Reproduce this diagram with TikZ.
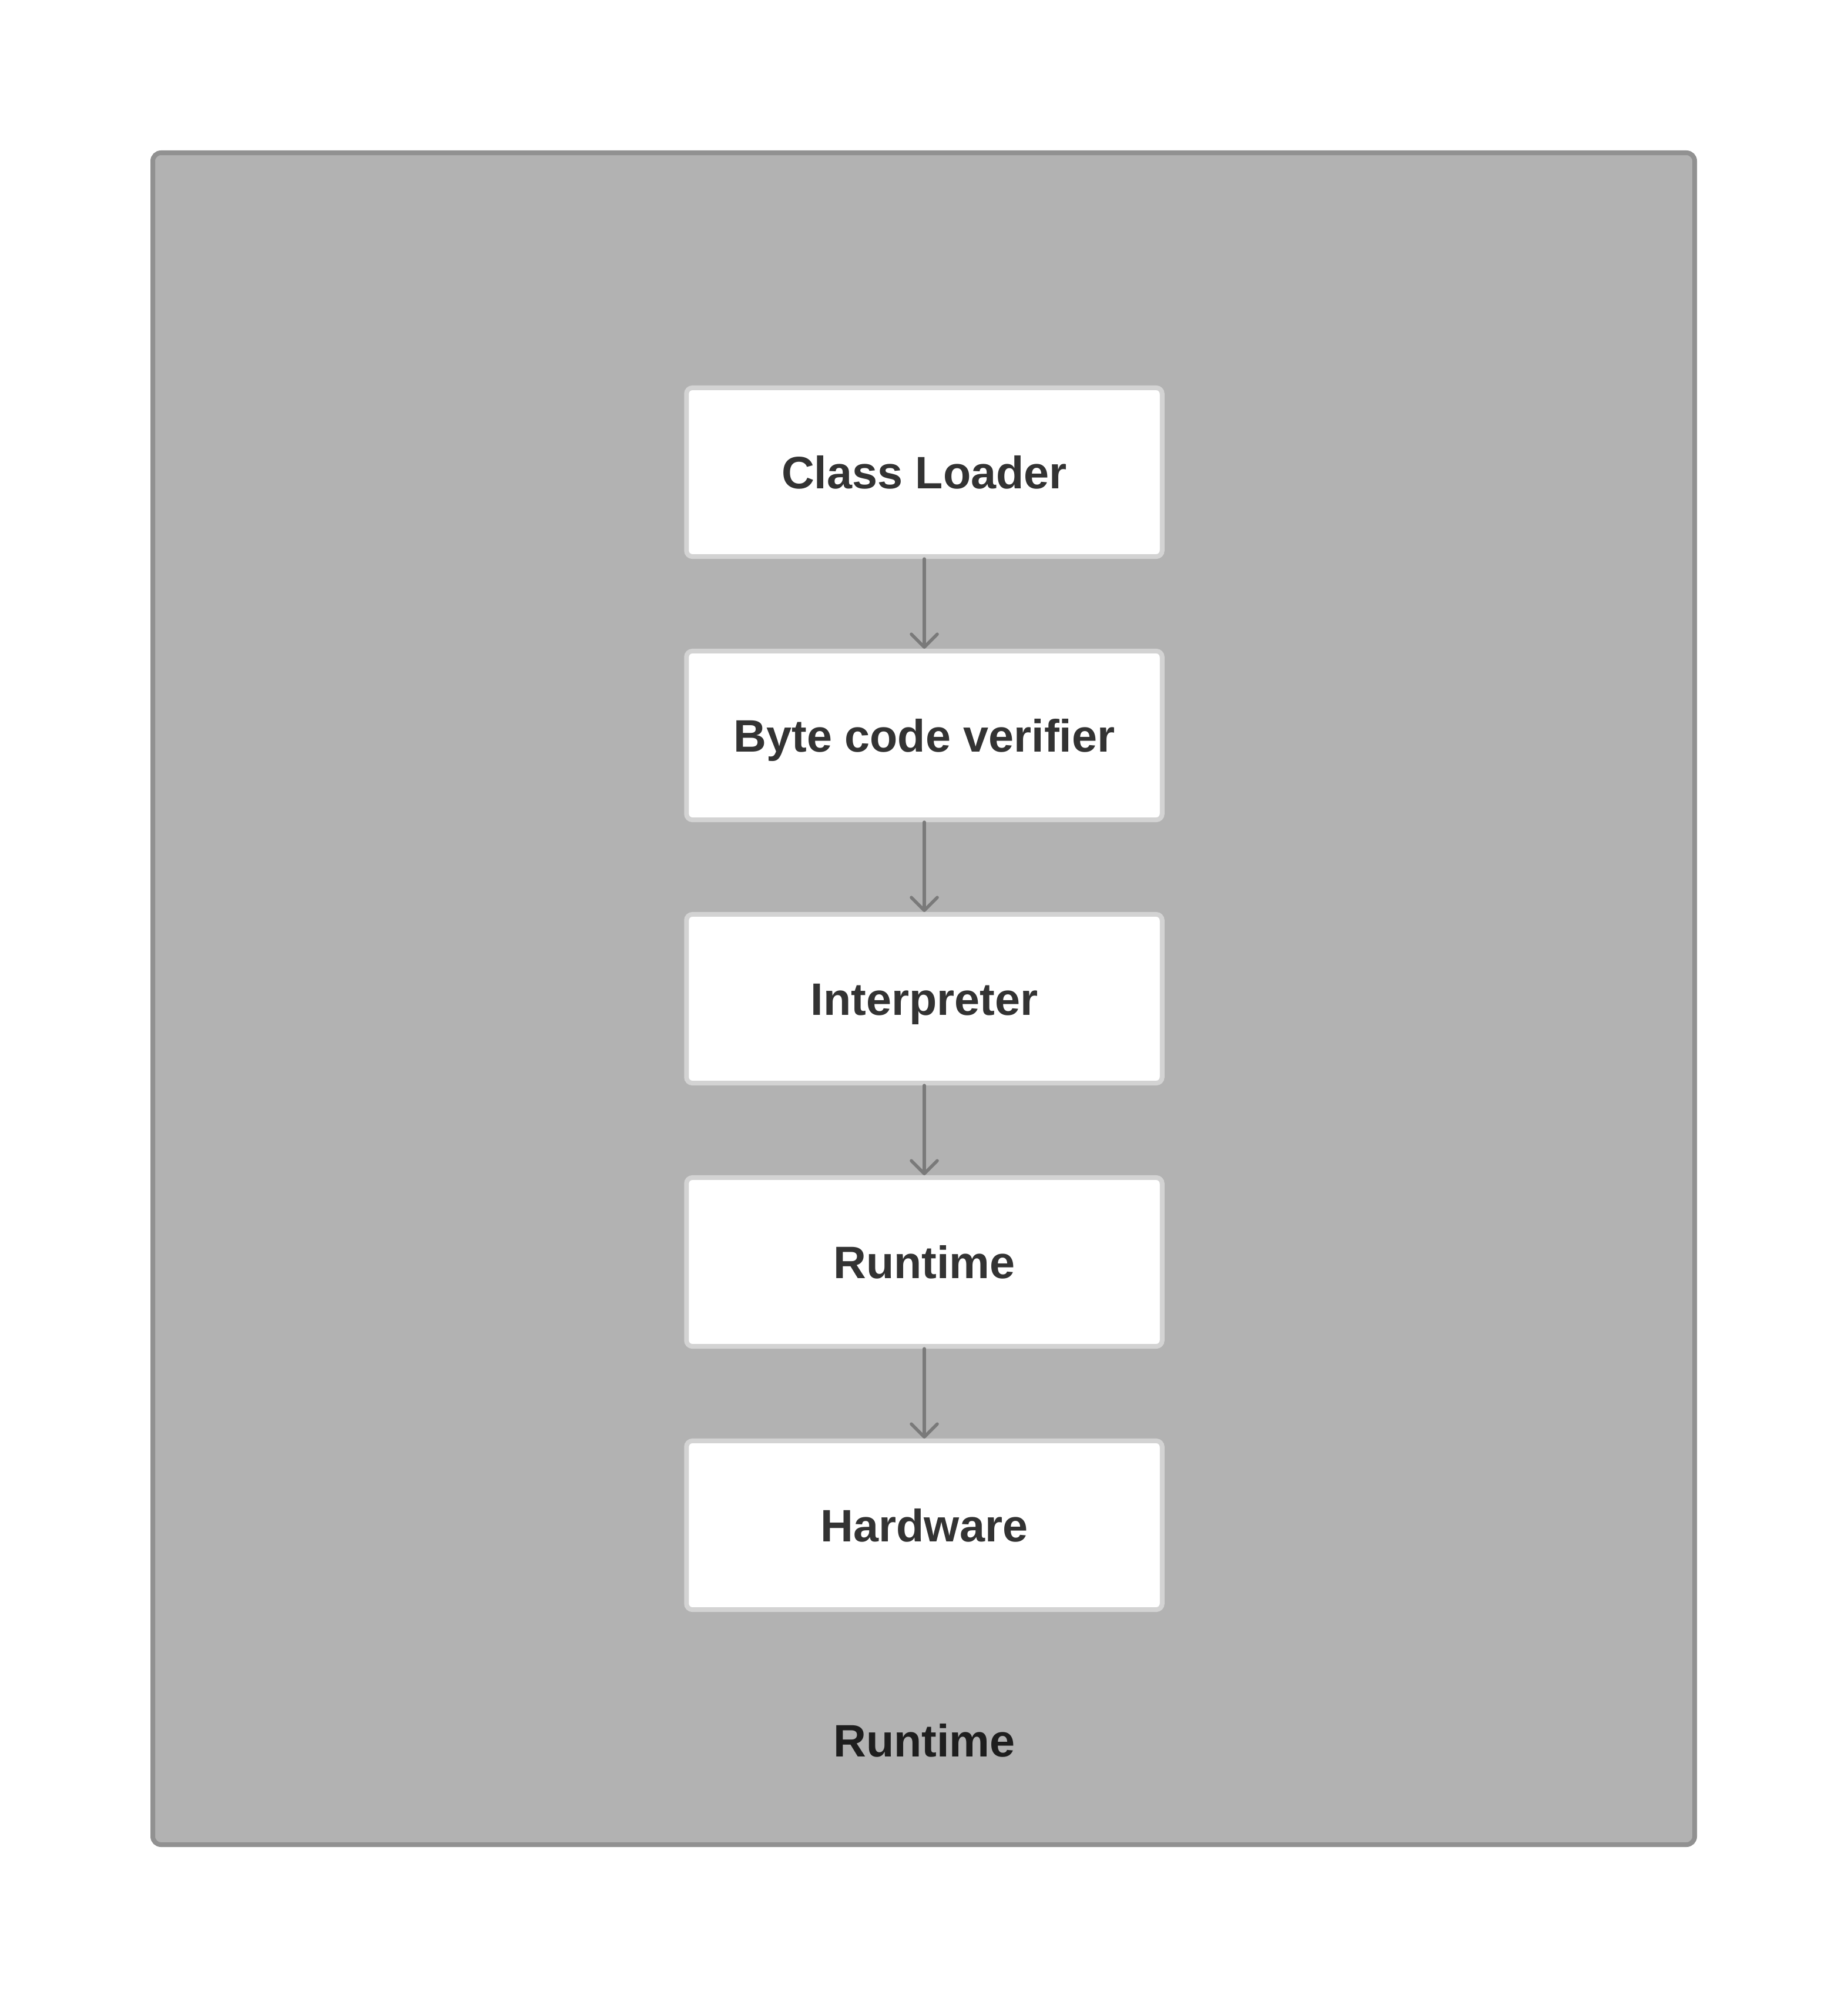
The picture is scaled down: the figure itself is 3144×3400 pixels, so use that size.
\documentclass[tikz,border=0pt]{standalone}
\usepackage{fontspec}
\setmainfont{Liberation Sans}
\usetikzlibrary{arrows.meta}
\definecolor{outerfill}{HTML}{B2B2B2}
\definecolor{outerdraw}{HTML}{919191}
\definecolor{boxdraw}{HTML}{D3D3D3}
\definecolor{arrowcol}{HTML}{7A7A7A}
\definecolor{txtcol}{HTML}{333333}
\definecolor{lblcol}{HTML}{1E1E1E}
\begin{document}
\begin{tikzpicture}[x=0.01cm,y=-0.01cm,
  stagebox/.style={draw=boxdraw,fill=white,line width=0.08cm,rounded corners=0.1cm,
    minimum width=8.09cm,minimum height=2.87cm,inner sep=0pt,
    text height=15.8pt,text depth=0pt,
    text=txtcol,font=\fontsize{22}{27}\selectfont\bfseries},
  flow/.style={draw=arrowcol,line width=0.055cm,line cap=round,
    -{Straight Barb[length=0.22cm,width=0.44cm,line cap=round,line join=round]}},
  grouplabel/.style={text=lblcol,font=\fontsize{22}{27}\selectfont\bfseries,
    inner sep=0pt,text height=15.8pt,text depth=0pt}]
\useasboundingbox (0,0) rectangle (3144,3400);
\draw[draw=outerdraw,fill=outerfill,line width=0.08cm,rounded corners=0.14cm] (260,260) rectangle (2884,3139);
\node[stagebox] (cl) at (1573,803.5) {Class Loader};
\node[stagebox] (bv) at (1573,1251.5) {Byte code verifier};
\node[stagebox] (ip) at (1573,1699.5) {Interpreter};
\node[stagebox] (rt) at (1573,2147.5) {Runtime};
\node[stagebox] (hw) at (1573,2595.5) {Hardware};
\node[grouplabel] (lbl) at (1573,2962) {Runtime};
\draw[flow] (cl) -- (bv);
\draw[flow] (bv) -- (ip);
\draw[flow] (ip) -- (rt);
\draw[flow] (rt) -- (hw);
\end{tikzpicture}
\end{document}
